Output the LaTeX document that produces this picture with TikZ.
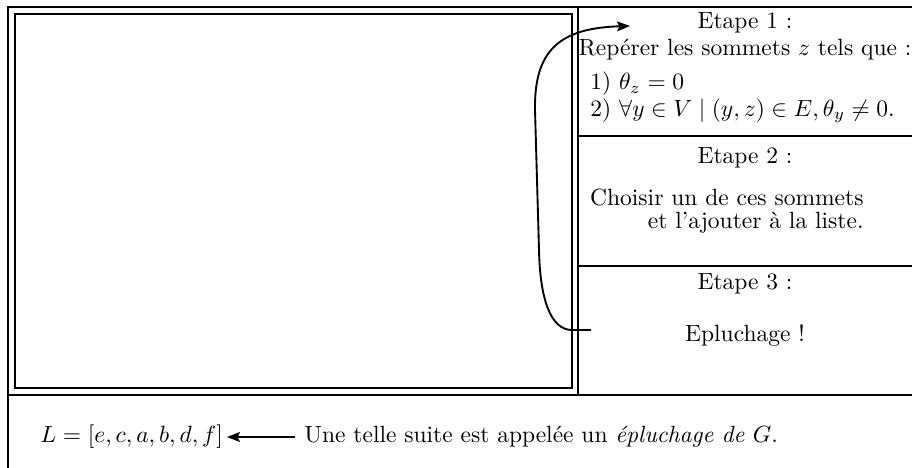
\documentclass[tikz,border=0pt]{standalone}
\usetikzlibrary{arrows.meta}
\tikzset{
  frame/.style={line width=0.9pt},
  rule/.style={line width=0.65pt},
  txt/.style={inner sep=0pt, font=\normalsize},
  arr/.style={line width=0.8pt, -{Stealth[length=5.5pt,width=4.2pt,inset=1pt]}},
}
\begin{document}
\begin{tikzpicture}[x=0.4255pt, y=-0.4255pt]
  \useasboundingbox (0,0) rectangle (912,468);

  % outer frame, open to the right and at the bottom
  \draw[frame] (912,7) -- (8,7) -- (8,468);
  \draw[frame] (8,395) -- (912,395);
  % drawing area and the column of steps
  \draw[rule] (15,14) rectangle (572,388);
  \draw[rule] (578,7) -- (578,395);
  \draw[rule] (578,136) -- (912,136);
  \draw[rule] (578,266) -- (912,266);

  % step 1
  \node[txt] (e1)  at (745,23)  {Etape 1 :};
  \node[txt] (e1a) at (745,50)  {Repérer les sommets $z$ tels que :};
  \node[txt, anchor=west] (c1) at (590,84)  {1) $\theta_z = 0$};
  \node[txt, anchor=west] (c2) at (590,111) {2) $\forall y \in V \mid (y,z) \in E, \theta_y \neq 0$.};

  % step 2
  \node[txt] (e2)  at (745,158) {Etape 2 :};
  \node[txt, anchor=east] (e2a) at (864,197) {Choisir un de ces sommets};
  \node[txt, anchor=east] (e2b) at (864,223) {et l'ajouter à la liste.};

  % step 3
  \node[txt] (e3)  at (745,284) {Etape 3 :};
  \node[txt] (e3a) at (745,336) {Epluchage !};

  % loop back from step 3 to step 1
  \coordinate (tail) at (591,330);
  \coordinate (knee) at (572,330);
  \coordinate (tip)  at (630,26);
  \draw[arr] (tail) -- (knee)
    .. controls (551,330) and (540,300) .. (539,250)
    -- (535,110)
    .. controls (534,50) and (560,28) .. (tip);

  % resulting list
  \node[txt, anchor=west] (L)   at (40,437)  {$L = [e,c,a,b,d,f]$};
  \node[txt, anchor=west] (def) at (304,437) {Une telle suite est appelée un \emph{épluchage de $G$}.};
  \draw[arr] ([xshift=-4pt]def.west) -- ([xshift=1.5pt]L.east);
\end{tikzpicture}
\end{document}
